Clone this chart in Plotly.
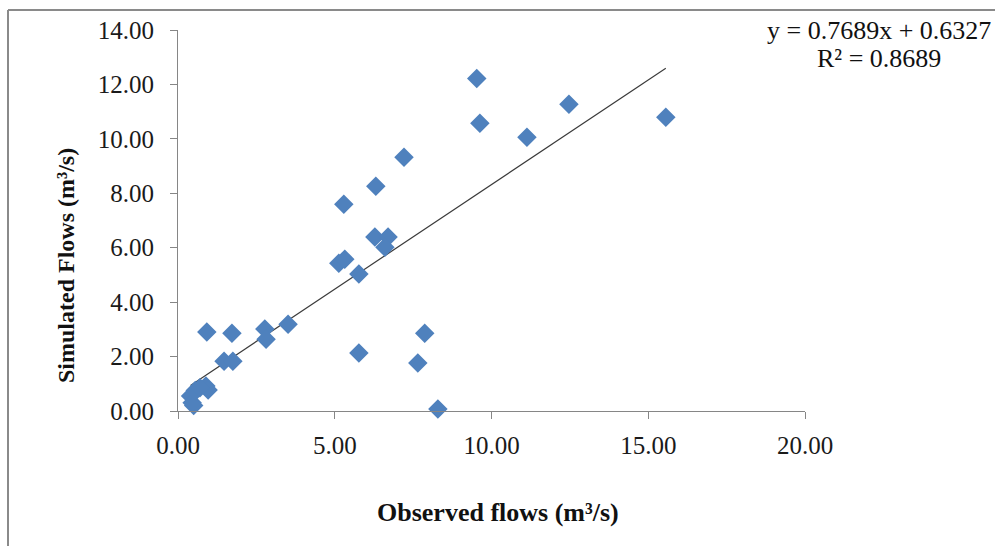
import plotly.graph_objects as go

# Observed vs simulated flows (m3/s)
observed = [9.53, 9.63, 11.13, 12.47, 15.56, 7.21, 6.31, 5.29, 6.28, 6.70,
            6.60, 5.13, 5.32, 5.77, 5.77, 7.87, 7.65, 8.29, 3.51, 2.77,
            2.81, 0.92, 1.72, 1.47, 1.75, 0.89, 0.96, 0.40, 0.45, 0.50,
            0.55, 0.70]
simulated = [12.22, 10.57, 10.06, 11.27, 10.79, 9.32, 8.26, 7.60, 6.39, 6.39,
             6.02, 5.43, 5.58, 5.03, 2.13, 2.86, 1.76, 0.07, 3.19, 3.01,
             2.64, 2.90, 2.86, 1.83, 1.83, 0.92, 0.77, 0.55, 0.30, 0.20,
             0.75, 0.85]

# Linear trendline coefficients
slope = 0.7689
intercept = 0.6327
r_squared = 0.8689

x_ticks = [0, 5, 10, 15, 20]
y_ticks = [0, 2, 4, 6, 8, 10, 12, 14]

W, H = 995, 546
ML, MR, MT, MB = 178, 190, 30, 135
PW, PH = W - ML - MR, H - MT - MB


def px(x):
    return (x - ML) / PW


def py(y):
    return (H - MB - y) / PH


x_fit = [min(observed), max(observed)]
y_fit = [slope * v + intercept for v in x_fit]

fig = go.Figure()
fig.add_trace(go.Scatter(
    x=x_fit, y=y_fit, mode="lines",
    line=dict(color="#3a3a3a", width=1.2),
    hoverinfo="skip", showlegend=False,
))
fig.add_trace(go.Scatter(
    x=observed, y=simulated, mode="markers",
    marker=dict(symbol="diamond", size=15, color="#4F81BD",
                line=dict(width=0)),
    cliponaxis=False, showlegend=False,
))

axis_common = dict(
    showgrid=False, zeroline=False, showline=True,
    linecolor="#868686", linewidth=1,
    ticks="outside", ticklen=7, tickcolor="#868686", tickwidth=1,
    tickformat=".2f",
    tickfont=dict(family="Liberation Serif", size=25, color="#1a1a1a"),
)

fig.update_xaxes(range=[0, 20], tickvals=x_ticks, ticklabelstandoff=5,
                 **axis_common)
fig.update_yaxes(range=[0, 14], tickvals=y_ticks, ticklabelstandoff=11,
                 **axis_common)

title_font = dict(family="Liberation Serif", size=26, color="#111111")
ytitle_font = dict(family="Liberation Serif", size=24, color="#111111")
eq_font = dict(family="Liberation Serif", size=26, color="#111111")

fig.update_layout(
    width=W, height=H,
    margin=dict(l=ML, r=MR, t=MT, b=MB),
    plot_bgcolor="white", paper_bgcolor="white",
    annotations=[
        dict(text="<b>Observed flows (m³/s)</b>",
             x=px(498), y=py(512), xref="paper", yref="paper",
             xanchor="center", yanchor="middle", showarrow=False,
             font=title_font),
        dict(text="<b>Simulated Flows (m³/s)</b>",
             x=px(66), y=py(266), xref="paper", yref="paper",
             xanchor="center", yanchor="middle", showarrow=False,
             textangle=-90, font=ytitle_font),
        dict(text=f"y = {slope:.4f}x + {intercept:.4f}",
             x=px(879), y=py(31), xref="paper", yref="paper",
             xanchor="center", yanchor="middle", showarrow=False,
             font=eq_font),
        dict(text=f"R² = {r_squared:.4f}",
             x=px(879), y=py(58), xref="paper", yref="paper",
             xanchor="center", yanchor="middle", showarrow=False,
             font=eq_font),
    ],
    shapes=[
        dict(type="line", xref="paper", yref="paper",
             x0=px(8), y0=py(10), x1=px(W + 2), y1=py(10),
             line=dict(color="#8a8a8a", width=2)),
        dict(type="line", xref="paper", yref="paper",
             x0=px(8), y0=py(10), x1=px(8), y1=py(H + 2),
             line=dict(color="#8a8a8a", width=2)),
    ],
)

fig.write_html("out.html")
